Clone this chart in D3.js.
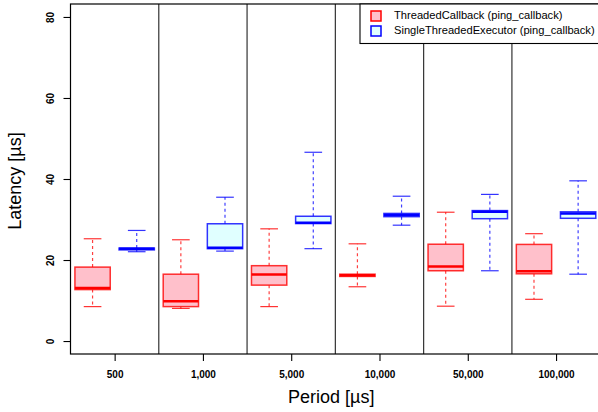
<!DOCTYPE html>
<html><head><meta charset="utf-8">
<script src="https://cdn.jsdelivr.net/npm/d3@7"></script>
<style>body{margin:0;background:#fff}svg{display:block;font-family:"Liberation Sans",Arial,sans-serif}</style>
</head><body><svg id="c" width="598" height="412"></svg>
<script>
const periods = ["500","1,000","5,000","10,000","50,000","100,000"];
const seriesNames = ["ThreadedCallback (ping_callback)","SingleThreadedExecutor (ping_callback)"];
const seriesStroke = ["#ff0000","#0000ff"];
const seriesFill = ["#ffc0cb","#e0ffff"];
// [lowerWhisker, q1, median, q3, upperWhisker] per period
const threaded = [
  [8.5,12.7,13.1,18.25,25.25],
  [8.05,8.5,9.8,16.5,25.0],
  [8.5,13.8,16.45,18.6,27.7],
  [13.4,15.95,16.25,16.5,24.0],
  [8.6,17.35,18.4,23.9,31.8],
  [10.3,16.6,17.2,23.85,26.5]
];
const single = [
  [22.05,22.5,22.8,22.95,27.3],
  [22.2,22.8,23.0,28.95,35.5],
  [22.8,29.0,29.2,30.8,46.6],
  [28.6,30.7,31.1,31.5,35.75],
  [17.35,30.2,31.9,32.2,36.2],
  [16.5,30.3,31.5,31.9,39.55]
];
const yTicks = [0,20,40,60,80];

const svg = d3.select("#c");
const L = 70.5, R = 600.2, T = 4, B = 354;
const x = d3.scaleLinear().domain([0.5,12.5]).range([L,R]);
const y = d3.scaleLinear().domain([-3.2,83.2]).range([B,T]);

const boxes = [];
periods.forEach((p,i)=>{
  boxes.push({pos:2*i+1, s:0, v:threaded[i]});
  boxes.push({pos:2*i+2, s:1, v:single[i]});
});

// separators
const g = svg.append("g");
for (let i=1;i<periods.length;i++){
  g.append("line").attr("x1",x(2*i+0.5)).attr("x2",x(2*i+0.5)).attr("y1",T).attr("y2",B)
   .attr("stroke","#333").attr("stroke-width",1.2);
}

const bw = 0.8, sw = 0.4;
boxes.forEach(b=>{
  const [lo,q1,md,q3,hi] = b.v;
  const c = seriesStroke[b.s];
  const cx = x(b.pos);
  const hw = (x(b.pos+bw/2)-x(b.pos));
  const cw = (x(b.pos+sw/2)-x(b.pos));
  g.append("line").attr("x1",cx).attr("x2",cx).attr("y1",y(q3)).attr("y2",y(hi))
   .attr("stroke",c).attr("stroke-width",1.2).attr("stroke-dasharray","3,3").attr("stroke-opacity",0.75);
  g.append("line").attr("x1",cx).attr("x2",cx).attr("y1",y(q1)).attr("y2",y(lo))
   .attr("stroke",c).attr("stroke-width",1.2).attr("stroke-dasharray","3,3").attr("stroke-opacity",0.75);
  [lo,hi].forEach(v=>g.append("line").attr("x1",cx-cw).attr("x2",cx+cw).attr("y1",y(v)).attr("y2",y(v))
   .attr("stroke",c).attr("stroke-width",1.2).attr("stroke-opacity",0.8));
  g.append("rect").attr("x",cx-hw).attr("width",2*hw).attr("y",y(q3)).attr("height",Math.max(0.5,y(q1)-y(q3)))
   .attr("fill",seriesFill[b.s]).attr("stroke",c).attr("stroke-width",1.5).attr("stroke-opacity",0.8);
  g.append("line").attr("x1",cx-hw).attr("x2",cx+hw).attr("y1",y(md)).attr("y2",y(md))
   .attr("stroke",c).attr("stroke-width",2.5);
});

// frame
svg.append("rect").attr("x",L).attr("y",T).attr("width",R-L).attr("height",B-T)
  .attr("fill","none").attr("stroke","#000").attr("stroke-width",1.2);

// y axis
const ya = svg.append("g").attr("transform",`translate(${L},0)`)
  .call(d3.axisLeft(y).tickValues(yTicks).tickSize(7).tickPadding(0).tickFormat(d3.format("d")));
ya.select(".domain").remove();
ya.selectAll(".tick line").attr("stroke","#000").attr("stroke-width",1.1);
ya.selectAll(".tick text").attr("x",null).attr("dy",null)
  .attr("transform","translate(-19,0) rotate(-90)").attr("text-anchor","middle").attr("dominant-baseline","middle")
  .attr("font-size",10).attr("font-weight","bold").attr("fill","#000")
  .style("font-family","'Liberation Sans',Arial,sans-serif");

// x axis
const xa = svg.append("g").attr("transform",`translate(0,${B})`)
  .call(d3.axisBottom(x).tickValues(periods.map((p,i)=>2*i+1.5)).tickSize(7).tickPadding(10)
    .tickFormat((d,i)=>periods[i]));
xa.select(".domain").remove();
xa.selectAll(".tick line").attr("stroke","#000").attr("stroke-width",1.1);
xa.selectAll(".tick text").attr("font-size",10).attr("font-weight","bold").attr("fill","#000")
  .style("font-family","'Liberation Sans',Arial,sans-serif");

// axis titles
svg.append("text").attr("x",(L+598)/2 - 3).attr("y",403).attr("text-anchor","middle")
  .attr("font-size",18).text("Period [µs]");
svg.append("text").attr("transform",`translate(21,${(T+B)/2 + 2}) rotate(-90)`).attr("text-anchor","middle")
  .attr("font-size",18).text("Latency [µs]");

// legend
const lg = svg.append("g");
lg.append("rect").attr("x",360).attr("y",T).attr("width",260).attr("height",39.5)
  .attr("fill","#fff").attr("stroke","#000").attr("stroke-width",1.1);
const legTexts = [];
seriesNames.forEach((n,i)=>{
  const cy = 16 + i*15;
  lg.append("rect").attr("x",371).attr("y",cy-5).attr("width",10).attr("height",10)
    .attr("fill",seriesFill[i]).attr("stroke",seriesStroke[i]).attr("stroke-width",1.5);
  legTexts.push(lg.append("text").attr("x",394).attr("y",cy).attr("dominant-baseline","middle")
    .attr("font-size",11).text(n));
});
// fit the longer entry to end at ~596px
const wLong = legTexts[1].node().getComputedTextLength();
const fs = Math.min(11.5, 11 * 201 / wLong);
legTexts.forEach(t=>t.attr("font-size",fs));
</script></body></html>
